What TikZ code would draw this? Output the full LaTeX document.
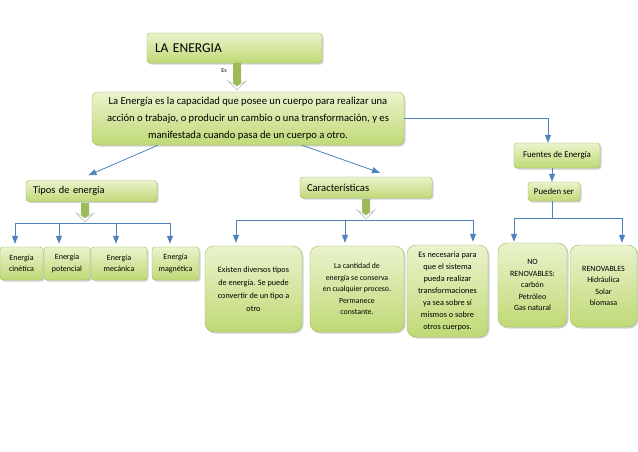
\documentclass[tikz,border=0pt]{standalone}
\usepackage{fontspec}
\setmainfont{Carlito}
\usetikzlibrary{arrows.meta,shadows}

\definecolor{boxline}{RGB}{155,187,89}
\definecolor{boxtop}{RGB}{234,243,204}
\definecolor{boxbot}{RGB}{192,217,118}
\definecolor{linkblue}{RGB}{79,129,189}
\definecolor{bigarrow}{RGB}{155,187,89}

\tikzset{
  box/.style={draw=boxline, rounded corners=3pt, top color=boxtop, bottom color=boxbot,
    drop shadow={shadow xshift=1.5pt, shadow yshift=-1.5pt, opacity=0.35}, inner sep=1pt, align=center},
  roundbox/.style={box, rounded corners=9pt},
  link/.style={draw=linkblue, line width=0.8pt, -{Triangle[width=6pt,length=8pt]}},
  joint/.style={draw=linkblue, line width=0.8pt}
}

% green block arrow: x, top, bottom
\newcommand{\bigdown}[3]{%
  \filldraw[draw=gray!55, fill=white] (#1-9,#3-9) -- (#1,#3) -- (#1+9,#3-9) -- (#1,#3-4) -- cycle;
  \fill[bigarrow] (#1-4,#2) -- (#1+4,#2) -- (#1+4,#3-7) -- (#1,#3-4) -- (#1-4,#3-7) -- cycle;}

\begin{document}
\begin{tikzpicture}[x=1pt,y=-1pt]
  \useasboundingbox (0,0) rectangle (638,451);

  % top
  \node[box, minimum width=175, minimum height=30, text width=159, align=left,
    font=\fontsize{13.5}{15}\selectfont] (energia) at (234.5,48) {LA ENERGIA};
  \node[font=\fontsize{6}{7}\selectfont] (es) at (224,71) {Es};
  \bigdown{237}{63}{90}

  \node[box, rounded corners=6pt, minimum width=312, minimum height=53,
    font=\fontsize{10.6}{17}\selectfont] (def) at (248,118.5)
    {La Energía es la capacidad que posee un cuerpo para realizar una\\
     acción o trabajo, o producir un cambio o una transformación, y es\\
     manifestada cuando pasa de un cuerpo a otro.};

  % second level
  \node[box, minimum width=131, minimum height=21, text width=117, align=left,
    font=\fontsize{10.4}{12}\selectfont] (tipos) at (91.5,191) {Tipos de energía};
  \node[box, minimum width=132, minimum height=21, text width=118, align=left,
    font=\fontsize{10.6}{12}\selectfont] (carac) at (366,187.5) {Características};
  \node[box, minimum width=86, minimum height=25,
    font=\fontsize{8.8}{10}\selectfont] (fuentes) at (557,155.5) {Fuentes de Energía};
  \node[box, minimum width=52, minimum height=19,
    font=\fontsize{8.8}{10}\selectfont] (pueden) at (554,191.5) {Pueden ser};

  \draw[link] ([xshift=-90pt]def.south) -- ([xshift=-3pt,yshift=5pt]tipos.north);
  \draw[link] ([xshift=54pt]def.south) -- ([xshift=14pt,yshift=4pt]carac.north);
  \draw[link] (def.east) -| ([xshift=-9pt]fuentes.north);
  \draw[link] ([xshift=-2pt]pueden.north |- fuentes.south) -- ([xshift=-2pt]pueden.north);

  % tipos de energia
  \bigdown{85}{203}{222}
  \node[box, minimum width=43, minimum height=33, font=\fontsize{8}{11.5}\selectfont]
    (cinetica) at (21.5,263.5) {Energía\\cinética};
  \node[box, minimum width=46, minimum height=33, font=\fontsize{8}{11.5}\selectfont]
    (potencial) at (67,263.5) {Energía\\potencial};
  \node[box, minimum width=56, minimum height=33, font=\fontsize{8}{11.5}\selectfont]
    (mecanica) at (119,263.5) {Energía\\mecánica};
  \node[box, minimum width=47, minimum height=33, font=\fontsize{8}{11.5}\selectfont]
    (magnetica) at (175.5,263.5) {Energía\\magnética};

  \coordinate (tsplit) at (85,223);
  \draw[link] (tsplit) -| ([xshift=-6.5pt,yshift=3pt]cinetica.north);
  \draw[link] (tsplit) -| ([xshift=-8pt,yshift=3pt]potencial.north);
  \draw[link] (tsplit) -| ([xshift=-3pt,yshift=3pt]mecanica.north);
  \draw[link] (tsplit) -| ([xshift=-5.5pt,yshift=3pt]magnetica.north);

  % caracteristicas
  \bigdown{366}{199}{219}
  \node[roundbox, minimum width=97, minimum height=86, font=\fontsize{8.2}{13}\selectfont]
    (diversos) at (253.5,289) {Existen diversos tipos\\de energía. Se puede\\convertir de un tipo a\\otro};
  \node[roundbox, minimum width=94, minimum height=86, font=\fontsize{7.8}{11.5}\selectfont]
    (conserva) at (357,289) {La cantidad de\\energía se conserva\\en cualquier proceso.\\Permanece\\constante.};
  \node[roundbox, minimum width=81, minimum height=92, font=\fontsize{8.3}{12}\selectfont]
    (necesaria) at (447.5,291) {Es necesaria para\\que el sistema\\pueda realizar\\transformaciones\\ya sea sobre sí\\mismos o sobre\\otros cuerpos.};

  \coordinate (csplit) at (366,220);
  \draw[link] (csplit) -| ([xshift=-17.5pt,yshift=3pt]diversos.north);
  \draw[link] (csplit) -| ([xshift=-12pt,yshift=3pt]conserva.north);
  \draw[link] (csplit) -| ([xshift=25.5pt,yshift=3pt]necesaria.north);

  % fuentes
  \node[roundbox, minimum width=69, minimum height=84, font=\fontsize{8}{11.5}\selectfont]
    (norenov) at (532.5,285) {NO\\RENOVABLES:\\carbón\\Petróleo\\Gas natural};
  \node[roundbox, minimum width=67, minimum height=82, font=\fontsize{8}{11.5}\selectfont]
    (renov) at (603.5,286) {RENOVABLES\\Hidráulica\\Solar\\biomasa};

  \coordinate (fsplit) at (552,218);
  \draw[joint] ([xshift=-2pt]pueden.south) -- (fsplit);
  \draw[link] (fsplit) -| ([xshift=-18.5pt,yshift=1pt]norenov.north);
  \draw[link] (fsplit) -| ([xshift=18.5pt,yshift=2pt]renov.north);
\end{tikzpicture}
\end{document}
